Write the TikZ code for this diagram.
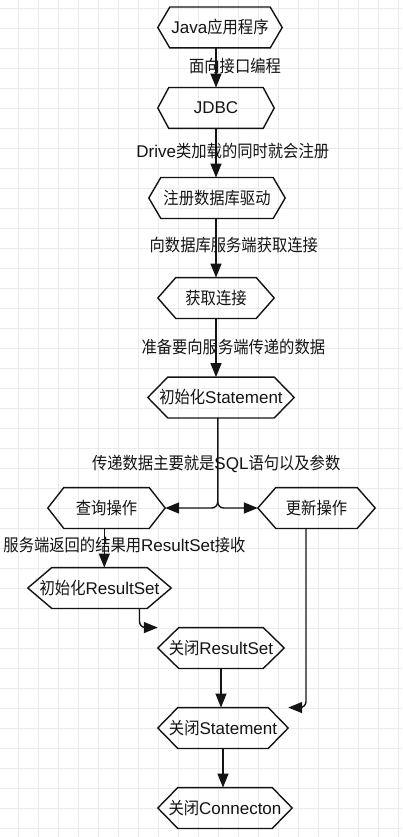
\documentclass[tikz,border=0pt]{standalone}
\usepackage{fontspec}
\setmainfont{Liberation Sans}
\newfontfamily\cjk[FakeStretch=0.9]{Noto Sans CJK SC}
\usetikzlibrary{arrows.meta}
\definecolor{gridc}{RGB}{235,235,235}
\definecolor{ink}{RGB}{20,20,20}
\newcommand{\hexdraw}[2]{\draw[hexline] (#1.west) -- ([xshift=#2]#1.north west) -- ([xshift=-#2]#1.north east) -- (#1.east) -- ([xshift=-#2]#1.south east) -- ([xshift=#2]#1.south west) -- cycle;}
\tikzset{
  gridline/.style={draw=gridc, line width=1pt},
  box/.style={draw=none, inner sep=0pt, minimum height=40.5pt, text=ink, font=\fontsize{17}{20}\selectfont},
  hexline/.style={draw=ink, line width=1.4pt, line join=miter},
  arr/.style={draw=ink, line width=1.4pt, -{Triangle[length=14pt,width=11pt]}},
  lbl/.style={inner sep=0pt, text=ink, font=\fontsize{17}{20}\selectfont},
}
\begin{document}
\begin{tikzpicture}[x=1pt,y=-1pt]
\useasboundingbox (0,0) rectangle (402,837);
\fill[white] (0,0) rectangle (402,837);
\foreach \i in {0,...,19} {\draw[gridline] ({18.3+20*\i},0) -- ({18.3+20*\i},837);}
\foreach \i in {0,...,41} {\draw[gridline] (0,{8.3+20*\i}) -- (402,{8.3+20*\i});}

% nodes
\node[box, minimum width=124pt] (java) at (220,27.5) {Java{\cjk 应用程序}};
\node[box, minimum width=116pt] (jdbc) at (216,108) {JDBC};
\node[box, minimum width=136pt] (reg) at (217,198) {{\cjk 注册数据库驱动}};
\node[box, minimum width=116pt] (conn) at (216,298) {{\cjk 获取连接}};
\node[box, minimum width=146pt] (stmt) at (221,397.5) {{\cjk 初始化}Statement};
\node[box, minimum width=117pt] (query) at (106.5,508) {{\cjk 查询操作}};
\node[box, minimum width=117pt] (update) at (316.5,508) {{\cjk 更新操作}};
\node[box, minimum width=143pt] (rsinit) at (99.5,588) {{\cjk 初始化}ResultSet};
\node[box, minimum width=126pt] (rsclose) at (221,648) {{\cjk 关闭}ResultSet};
\node[box, minimum width=130pt] (stclose) at (223,728) {{\cjk 关闭}Statement};
\node[box, minimum width=134pt] (cnclose) at (225,808) {{\cjk 关闭}Connecton};

\hexdraw{java}{12}
\hexdraw{jdbc}{11}
\hexdraw{reg}{12}
\hexdraw{conn}{18}
\hexdraw{stmt}{20}
\hexdraw{query}{16}
\hexdraw{update}{18}
\hexdraw{rsinit}{24}
\hexdraw{rsclose}{21}
\hexdraw{stclose}{20}
\hexdraw{cnclose}{20}

% connectors
\draw[arr] (java.south -| jdbc.north) -- (jdbc.north);
\draw[arr] (jdbc.south) -- (jdbc.south |- reg.north);
\draw[arr] (reg.south -| conn.north) -- (conn.north);
\draw[arr] (conn.south) -- (conn.south |- stmt.north);
\coordinate (fork) at ([xshift=-3.3pt]stmt.south |- query.east);
\draw[arr, rounded corners=6pt] ([xshift=-3.3pt]stmt.south) -- (fork) -- (query.east);
\draw[arr, rounded corners=6pt] ([xshift=-3.3pt]stmt.south) -- (fork) -- (update.west);
\draw[arr] ([xshift=-2.2pt]query.south) -- ([xshift=-2.2pt]query.south |- rsinit.north);
\draw[arr, rounded corners=6pt] ([xshift=40pt]rsinit.south) |- (rsclose.north west);
\draw[arr] (rsclose.south) -- (rsclose.south |- stclose.north);
\draw[arr, rounded corners=6pt] ([xshift=-10.5pt]update.south) |- (stclose.north east);
\draw[arr] (stclose.south) -- (stclose.south |- cnclose.north);

% labels
\node[lbl] (l1) at (235,66) {{\cjk 面向接口编程}};
\node[lbl] (l2) at (232.8,151.3) {Drive{\cjk 类加载的同时就会注册}};
\node[lbl] (l3) at (233.8,245) {{\cjk 向数据库服务端获取连接}};
\node[lbl] (l4) at (233.3,346.7) {{\cjk 准备要向服务端传递的数据}};
\node[lbl] (l5) at (216.2,464.3) {{\cjk 传递数据主要就是}SQL{\cjk 语句以及参数}};
\node[lbl, anchor=east] (l6) at (245.7,545) {{\cjk 服务端返回的结果用}ResultSet{\cjk 接收}};
\end{tikzpicture}
\end{document}
